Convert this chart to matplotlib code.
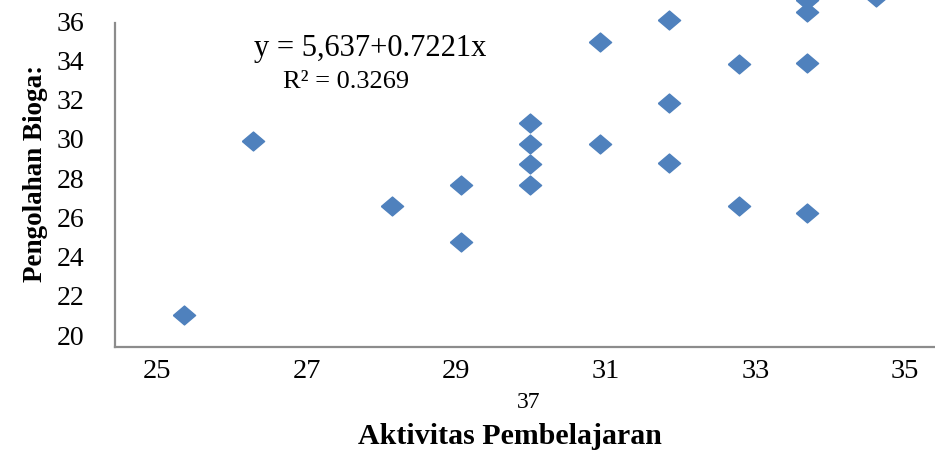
import matplotlib
matplotlib.use("Agg")
import matplotlib.pyplot as plt

# values (axis units as labelled)
aktivitas = [25.36, 26.28, 28.14, 29.06, 29.06, 29.99, 29.99, 29.99, 29.99,
             30.92, 30.92, 31.84, 31.84, 31.84, 32.78, 32.78,
             33.69, 33.69, 33.69, 33.69, 34.61]
biogas = [21.0, 29.9, 26.6, 27.65, 24.75, 30.8, 29.75, 28.7, 27.65,
          34.95, 29.75, 36.05, 31.85, 28.8, 33.85, 26.6,
          37.1, 36.5, 33.9, 26.2, 37.25]
x_ticks = [25, 27, 29, 31, 33, 35]
y_ticks = [20, 22, 24, 26, 28, 30, 32, 34, 36]
eq_text = "y = 5,637+0.7221x"
r2_text = "R\u00b2 = 0.3269"

plt.rcParams["font.family"] = ["Liberation Serif", "DejaVu Serif"]

fig = plt.figure(figsize=(9.35, 4.5), dpi=100)
ax = fig.add_axes([115 / 935, 1 - 347 / 450, 820 / 935, 347 / 450])

diamond = [(-1, 0), (0, 0.85), (1, 0), (0, -0.85), (-1, 0)]
ax.plot(aktivitas, biogas, linestyle="none", marker=diamond, ms=16,
        color="#4f81bd", mec="#4f81bd", clip_on=False, zorder=3)

ax.set_xlim(24.44, 35.40)
ax.set_ylim(19.39, 37.09)
ax.set_xticks(x_ticks)
ax.set_yticks(y_ticks)
ax.tick_params(axis="both", length=0, labelsize=20.5)
ax.tick_params(axis="x", pad=9)
ax.tick_params(axis="y", labelsize=20, pad=22)

for side in ("top", "right"):
    ax.spines[side].set_visible(False)
for side in ("left", "bottom"):
    ax.spines[side].set_color("#8c8c8c")
    ax.spines[side].set_linewidth(1.6)
ax.spines["left"].set_bounds(19.39, 35.92)

# stray label under the axis
ax.text(29.97, -0.16, "37", transform=ax.get_xaxis_transform(),
        ha="center", va="center", fontsize=17, clip_on=False)

ax.set_xlabel("Aktivitas Pembelajaran", fontsize=21.5, fontweight="bold")
ax.xaxis.set_label_coords((510 - 115) / 820, -0.218)
ax.set_ylabel("Pengolahan Bioga:", fontsize=19.5, fontweight="bold", labelpad=6)

ax.text(26.3, 34.64, eq_text, ha="left", va="center", fontsize=22)
ax.text(26.68, 32.9, r2_text, ha="left", va="center", fontsize=19)

fig.savefig("out.png", dpi=100)
